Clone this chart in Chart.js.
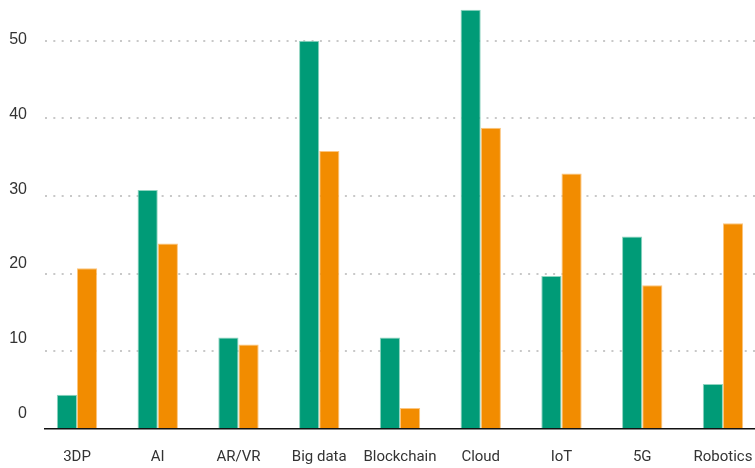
<!DOCTYPE html>
<html>
<head>
<meta charset="utf-8">
<script src="https://cdn.jsdelivr.net/npm/chart.js@4/dist/chart.umd.min.js"></script>
<style>
  html, body { margin: 0; padding: 0; background: #fff; overflow: hidden; }
  #c { display: block; }
</style>
</head>
<body>
<canvas id="c" width="755" height="468"></canvas>
<script>
// Technology categories along the x axis
const categories = ['3DP', 'AI', 'AR/VR', 'Big data', 'Blockchain', 'Cloud', 'IoT', '5G', 'Robotics'];
// First series (green) and second series (orange)
const seriesGreen = [4.4, 30.8, 11.8, 50, 11.8, 54, 19.7, 24.8, 5.8];
const seriesOrange = [20.7, 23.9, 10.9, 35.8, 2.7, 38.8, 32.9, 18.5, 26.5];
// Value-axis tick labels
const yTickValues = [0, 10, 20, 30, 40, 50];

const toPoints = arr => arr.map((v, i) => ({ x: i, y: v }));

const textColor = '#333333';

// keep the plot area fixed: no extra padding from the axes' edge labels
const noEdgePadding = s => {
  s.paddingTop = 0; s.paddingBottom = 0; s.paddingLeft = 0; s.paddingRight = 0;
};

new Chart(document.getElementById('c'), {
  type: 'bar',
  data: {
    datasets: [
      {
        label: 'A',
        data: toPoints(seriesGreen),
        backgroundColor: '#009b77',
        borderColor: '#8fd4c0',
        borderWidth: 1,
        yAxisID: 'y'
      },
      {
        label: 'B',
        data: toPoints(seriesOrange),
        backgroundColor: '#f28c00',
        borderColor: '#fcc57e',
        borderWidth: 1,
        yAxisID: 'y'
      }
    ]
  },
  options: {
    responsive: false,
    animation: false,
    events: [],
    layout: { padding: { top: 2, bottom: 2, left: 0, right: 0 } },
    categoryPercentage: 0.5,
    barPercentage: 1.0,
    plugins: {
      legend: { display: false },
      tooltip: { enabled: false }
    },
    scales: {
      x: {
        type: 'linear',
        min: -0.3963,
        max: 8.3967,
        offset: false,
        grid: { display: false, drawTicks: false },
        border: { display: true, color: '#111111', width: 1.5 },
        ticks: {
          stepSize: 1,
          includeBounds: false,
          autoSkip: false,
          maxRotation: 0,
          padding: 19,
          color: textColor,
          font: { family: 'Roboto, "Liberation Sans", sans-serif', size: 15 },
          callback: v => (Number.isInteger(v) && categories[v] !== undefined) ? categories[v] : ''
        },
        afterFit: s => { s.height = 37; noEdgePadding(s); }
      },
      // value axis carrying the bars and the dotted grid
      y: {
        type: 'linear',
        position: 'left',
        min: 0,
        max: 55,
        grid: {
          display: true,
          drawTicks: false,
          color: ctx => ctx.tick && ctx.tick.value === 0 ? 'rgba(0,0,0,0)' : '#c8c8c8',
          lineWidth: 2
        },
        border: { display: false, dash: [2, 6.33] },
        ticks: { display: false, stepSize: 10, includeBounds: false },
        afterFit: s => { s.width = 0; noEdgePadding(s); }
      },
      // axis holding the printed value labels
      yl: {
        type: 'linear',
        position: 'left',
        min: -2.103,
        max: 55.09,
        grid: { display: false, drawTicks: false },
        border: { display: false },
        ticks: {
          stepSize: 10,
          includeBounds: false,
          padding: 18,
          color: textColor,
          font: { family: '"Liberation Sans", Arial, sans-serif', size: 16 },
          callback: v => yTickValues.includes(v) ? String(v) : ''
        },
        afterFit: s => { s.width = 45; noEdgePadding(s); }
      }
    }
  }
});
</script>
</body>
</html>
